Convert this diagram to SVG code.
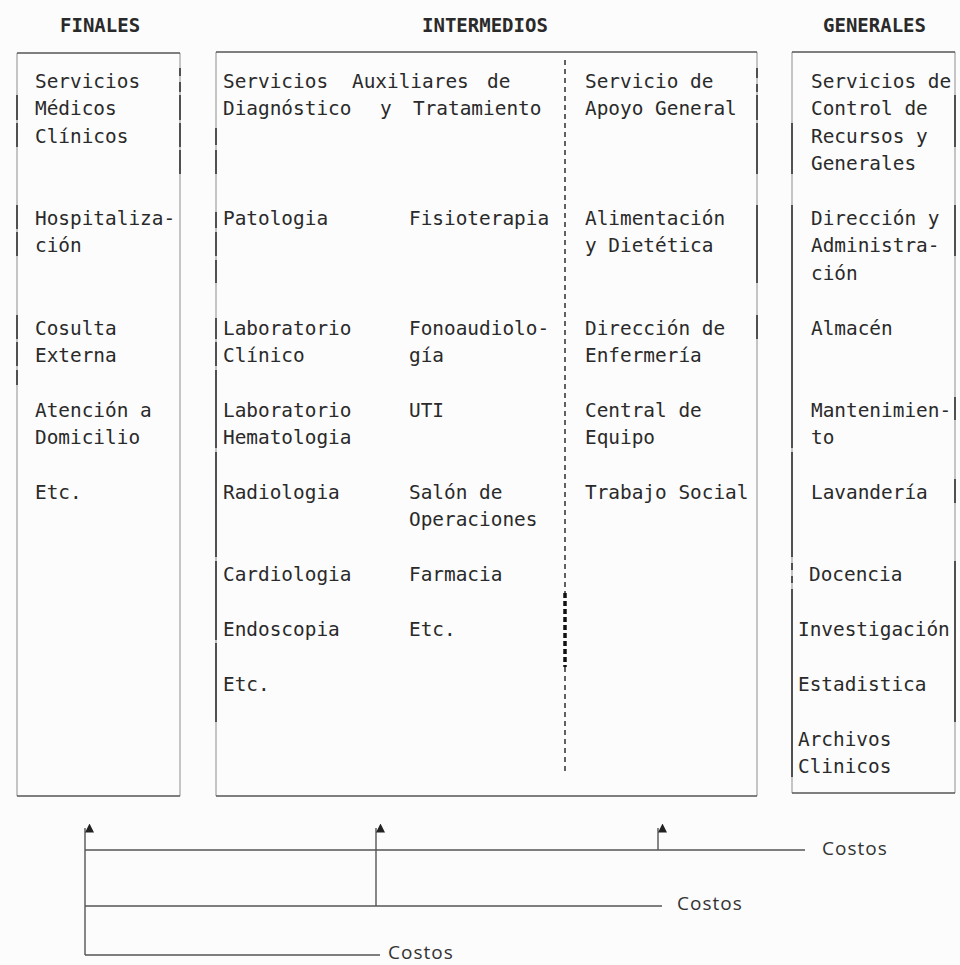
<svg xmlns="http://www.w3.org/2000/svg" width="960" height="965" viewBox="0 0 960 965">
  <style>
    .t { font-family: "DejaVu Sans Mono", "Liberation Mono", monospace; font-size: 19.4px; fill: #2a2a2a; }
    .h { font-family: "DejaVu Sans Mono", "Liberation Mono", monospace; font-size: 19px; font-weight: bold; fill: #2a2a2a; }
    .c { font-family: "Open Sans", "DejaVu Sans", sans-serif; font-size: 19px; letter-spacing: 1px; fill: #333; }
    .side { fill: none; stroke: #a8a8a8; stroke-width: 1.3; }
    .edge { fill: none; stroke: #555; stroke-width: 1.6; }
    .tick { fill: none; stroke: #333; stroke-width: 1.6; }
    .div { fill: none; stroke: #3a3a3a; stroke-width: 1.6; stroke-dasharray: 5 4; }
    .divb { fill: none; stroke: #111; stroke-width: 3.5; stroke-dasharray: 5 3; }
    .conn { fill: none; stroke: #555; stroke-width: 1.4; }
  </style>
  <defs>
    <marker id="up" viewBox="0 0 10 10" refX="5" refY="0" markerWidth="9" markerHeight="9" markerUnits="userSpaceOnUse" orient="auto-start-reverse">
      <path d="M0,10 L5,0 L10,10 Z" fill="#222" transform="rotate(90 5 5)"/>
    </marker>
  </defs>

  <rect width="960" height="965" fill="#fcfcfc"/>

  <!-- column headings -->
  <text class="h" x="60" y="32">FINALES</text>
  <text class="h" x="422" y="32">INTERMEDIOS</text>
  <text class="h" x="823" y="32">GENERALES</text>

  <!-- final services -->
  <g id="finales">
    <path class="side" d="M17,53 V796 M180,53 V796"/>
    <path class="edge" d="M17,53 H180 M17,796 H180"/>
    <path class="tick" d="M17,95 V120 M17,123 V147 M17,205 V229 M17,232 V256 M17,315 V339 M17,342 V366 M17,370 V385
                          M180,68 V76 M180,82 V92 M180,95 V120 M180,123 V147 M180,150 V174"/>
    <text class="t" x="35" y="88">Servicios</text>
    <text class="t" x="35" y="115.4">Médicos</text>
    <text class="t" x="35" y="142.8">Clínicos</text>
    <text class="t" x="35" y="225">Hospitaliza-</text>
    <text class="t" x="35" y="252.4">ción</text>
    <text class="t" x="35" y="334.6">Cosulta</text>
    <text class="t" x="35" y="362">Externa</text>
    <text class="t" x="35" y="416.8">Atención a</text>
    <text class="t" x="35" y="444.2">Domicilio</text>
    <text class="t" x="35" y="499">Etc.</text>
  </g>

  <!-- intermediate services -->
  <g id="intermedios">
    <path class="side" d="M216,52 V796 M757,52 V796"/>
    <path class="edge" d="M216,52 H757 M216,796 H757"/>
    <path class="tick" d="M216,128 V145 M216,150 V174 M216,212 V228 M216,232 V256 M216,260 V283
                          M216,318 V339 M216,342 V366 M216,370 V448 M216,452 V557 M216,561 V640 M216,643 V722
                          M757,68 V78 M757,84 V92 M757,95 V120 M757,123 V174 M757,205 V283 M757,315 V339"/>
    <path class="div" d="M565,60 V593 M565,667 V773"/>
    <path class="divb" d="M565,593 V667"/>

    <text class="t" y="88"><tspan x="223">Servicios</tspan><tspan x="352">Auxiliares</tspan><tspan x="487">de</tspan></text>
    <text class="t" y="115.4"><tspan x="223">Diagnóstico</tspan><tspan x="380">y</tspan><tspan x="413">Tratamiento</tspan></text>

    <text class="t" x="223" y="225">Patologia</text>
    <text class="t" x="223" y="334.6">Laboratorio</text>
    <text class="t" x="223" y="362">Clínico</text>
    <text class="t" x="223" y="416.8">Laboratorio</text>
    <text class="t" x="223" y="444.2">Hematologia</text>
    <text class="t" x="223" y="499">Radiologia</text>
    <text class="t" x="223" y="581.2">Cardiologia</text>
    <text class="t" x="223" y="636">Endoscopia</text>
    <text class="t" x="223" y="690.8">Etc.</text>

    <text class="t" x="409" y="225">Fisioterapia</text>
    <text class="t" x="409" y="334.6">Fonoaudiolo-</text>
    <text class="t" x="409" y="362">gía</text>
    <text class="t" x="409" y="416.8">UTI</text>
    <text class="t" x="409" y="499">Salón de</text>
    <text class="t" x="409" y="526.4">Operaciones</text>
    <text class="t" x="409" y="581.2">Farmacia</text>
    <text class="t" x="409" y="636">Etc.</text>

    <text class="t" x="585" y="88">Servicio de</text>
    <text class="t" x="585" y="115.4">Apoyo General</text>
    <text class="t" x="585" y="225">Alimentación</text>
    <text class="t" x="585" y="252.4">y Dietética</text>
    <text class="t" x="585" y="334.6">Dirección de</text>
    <text class="t" x="585" y="362">Enfermería</text>
    <text class="t" x="585" y="416.8">Central de</text>
    <text class="t" x="585" y="444.2">Equipo</text>
    <text class="t" x="585" y="499">Trabajo Social</text>
  </g>

  <!-- general services -->
  <g id="generales">
    <path class="side" d="M792,52 V793 M955,52 V793"/>
    <path class="edge" d="M792,52 H955 M792,793 H955"/>
    <path class="tick" d="M792,123 V174 M792,205 V448 M792,452 V557 M792,563 V570 M792,576 V583 M792,589 V777
                          M955,95 V147 M955,205 V256 M955,397 V420 M955,479 V503 M955,561 V722"/>
    <text class="t" x="811" y="88">Servicios de</text>
    <text class="t" x="811" y="115.4">Control de</text>
    <text class="t" x="811" y="142.8">Recursos y</text>
    <text class="t" x="811" y="170.2">Generales</text>
    <text class="t" x="811" y="225">Dirección y</text>
    <text class="t" x="811" y="252.4">Administra-</text>
    <text class="t" x="811" y="279.8">ción</text>
    <text class="t" x="811" y="334.6">Almacén</text>
    <text class="t" x="811" y="416.8">Mantenimien-</text>
    <text class="t" x="811" y="444.2">to</text>
    <text class="t" x="811" y="499">Lavandería</text>
    <text class="t" x="809" y="581.2">Docencia</text>
    <text class="t" x="798" y="636">Investigación</text>
    <text class="t" x="798" y="690.8">Estadistica</text>
    <text class="t" x="798" y="745.6">Archivos</text>
    <text class="t" x="798" y="773">Clinicos</text>
  </g>

  <!-- cost flows -->
  <g id="connectors">
    <path class="conn" d="M85,955 V828" marker-end="url(#up)"/>
    <path class="conn" d="M376,906 V828" marker-end="url(#up)"/>
    <path class="conn" d="M658,850 V828" marker-end="url(#up)"/>
    <path class="conn" d="M85,850 H805"/>
    <path class="conn" d="M85,906 H662"/>
    <path class="conn" d="M85,955 H380"/>
  </g>

  <text class="c" x="822" y="855">Costos</text>
  <text class="c" x="677" y="910">Costos</text>
  <text class="c" x="388" y="959">Costos</text>
</svg>
